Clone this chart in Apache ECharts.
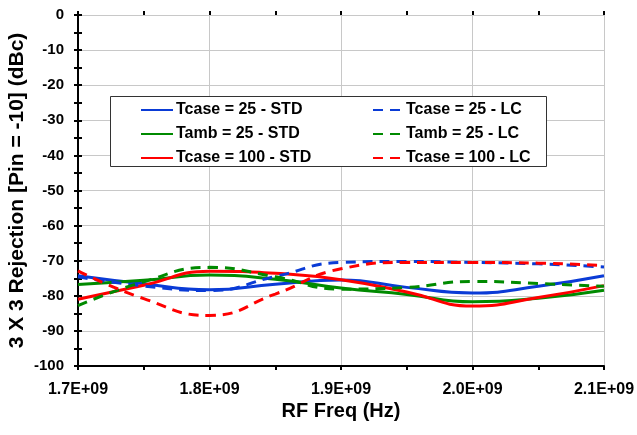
<!DOCTYPE html>
<html>
<head>
<meta charset="utf-8">
<script src="https://cdn.jsdelivr.net/npm/echarts@6/dist/echarts.min.js"></script>
<style>
  html, body { margin: 0; padding: 0; background: #fff; }
  #chart { width: 637px; height: 435px; }
</style>
</head>
<body>
<div id="chart"></div>
<script>
// frequency points (Hz)
var freqs = [1.70e9, 1.75e9, 1.80e9, 1.85e9, 1.90e9, 1.95e9, 2.00e9, 2.05e9, 2.10e9];

// rejection values (dBc)
var tcase25Std  = [-74.3, -76.6, -78.3, -76.7, -75.5, -77.6, -79.2, -77.3, -74.3];
var tamb25Std   = [-76.8, -75.6, -74.1, -75.3, -77.8, -79.6, -81.7, -80.7, -78.4];
var tcase100Std = [-81.0, -77.0, -73.0, -73.6, -75.4, -78.9, -82.9, -80.5, -77.1];
var tcase25Lc   = [-74.6, -77.2, -78.5, -74.5, -70.5, -70.2, -70.5, -70.9, -71.8];
var tamb25Lc    = [-82.8, -76.0, -71.9, -74.6, -78.1, -77.6, -75.9, -76.5, -77.3];
var tcase100Lc  = [-72.9, -80.8, -85.6, -79.5, -72.3, -70.5, -70.5, -70.7, -71.4];

var yTicks = { min: -100, max: 0, step: 10 };
var xTicks = { min: 1.7e9, max: 2.1e9, step: 1e8 };

var BLUE = '#0a3bd6', GREEN = '#008a00', RED = '#ff0000';

function pairs(ys) {
    return freqs.map(function (f, i) { return [f, ys[i]]; });
}

function makeLine(name, ys, color, dashed) {
    return {
        name: name,
        type: 'line',
        data: pairs(ys),
        smooth: 0.5,
        symbol: 'none',
        lineStyle: { color: color, width: 3, type: dashed ? [10, 7] : 'solid' },
        itemStyle: { color: color }
    };
}

var font = 'Liberation Sans, Arial, sans-serif';
var tickStyle = { color: '#000', width: 2 };
var gridBox = { left: 78, right: 33, top: 15, bottom: 69, outerBoundsMode: 'none' };

var chart = echarts.init(document.getElementById('chart'));
chart.setOption({
    animation: false,
    grid: [gridBox, gridBox],
    xAxis: [{
        type: 'value',
        min: xTicks.min, max: xTicks.max, interval: xTicks.step,
        name: 'RF Freq (Hz)',
        nameLocation: 'middle',
        nameGap: 35,
        nameMoveOverlap: false,
        nameTextStyle: { fontFamily: font, fontWeight: 'bold', fontSize: 20, color: '#000' },
        axisLine: { onZero: false, lineStyle: { color: '#000', width: 2 } },
        axisTick: { show: true, length: 4, lineStyle: tickStyle },
        minorTick: { show: true, splitNumber: 2, length: 4, lineStyle: tickStyle },
        axisLabel: {
            fontFamily: font, fontWeight: 'bold', fontSize: 16, color: '#000', margin: 16,
            formatter: function (v) { return (v / 1e9).toFixed(1) + 'E+09'; }
        },
        splitLine: { show: true, lineStyle: { color: '#c8c8c8', width: 1 } }
    }, {
        // inner half of the crossing ticks
        type: 'value', gridIndex: 1, position: 'bottom',
        min: xTicks.min, max: xTicks.max, interval: xTicks.step,
        axisLine: { show: false },
        axisTick: { show: true, inside: true, length: 4, lineStyle: tickStyle },
        minorTick: { show: true, splitNumber: 2, length: 4, lineStyle: tickStyle },
        axisLabel: { show: false },
        splitLine: { show: false }
    }],
    yAxis: [{
        type: 'value',
        min: yTicks.min, max: yTicks.max, interval: yTicks.step,
        name: '3 X 3 Rejection [Pin = -10] (dBc)',
        nameLocation: 'middle',
        nameGap: 50,
        nameMoveOverlap: false,
        nameTextStyle: { fontFamily: font, fontWeight: 'bold', fontSize: 21, color: '#000' },
        axisLine: { show: true, onZero: false, lineStyle: { color: '#000', width: 2 } },
        axisTick: { show: true, length: 4, lineStyle: tickStyle },
        minorTick: { show: true, splitNumber: 2, length: 4, lineStyle: tickStyle },
        axisLabel: { fontFamily: font, fontWeight: 'bold', fontSize: 15, color: '#000', margin: 14 },
        splitLine: { show: true, lineStyle: { color: '#c8c8c8', width: 1 } }
    }, {
        type: 'value', gridIndex: 1, position: 'left',
        min: yTicks.min, max: yTicks.max, interval: yTicks.step,
        axisLine: { show: false },
        axisTick: { show: true, inside: true, length: 4, lineStyle: tickStyle },
        minorTick: { show: true, splitNumber: 2, length: 4, lineStyle: tickStyle },
        axisLabel: { show: false },
        splitLine: { show: false }
    }],
    graphic: [{
        type: 'rect',
        shape: { x: 110.5, y: 96.5, width: 436, height: 70 },
        style: { fill: '#fff', stroke: '#333', lineWidth: 1 },
        z: 5
    }],
    legend: [{
        data: ['Tcase = 25 - STD', 'Tamb = 25 - STD', 'Tcase = 100 - STD'],
        orient: 'vertical', left: 135, top: 97,
        itemWidth: 32, itemHeight: 14, itemGap: 8,
        itemStyle: { opacity: 0 },
        textStyle: { fontFamily: font, fontWeight: 'bold', fontSize: 16, color: '#000', padding: [0, 0, 0, -2] },
        z: 10
    }, {
        data: ['Tcase = 25 - LC', 'Tamb = 25 - LC', 'Tcase = 100 - LC'],
        orient: 'vertical', left: 367, top: 97,
        itemWidth: 32, itemHeight: 14, itemGap: 8,
        itemStyle: { opacity: 0 },
        textStyle: { fontFamily: font, fontWeight: 'bold', fontSize: 16, color: '#000', padding: [0, 0, 0, -4] },
        z: 10
    }],
    series: [
        makeLine('Tcase = 25 - STD', tcase25Std, BLUE, false),
        makeLine('Tamb = 25 - STD', tamb25Std, GREEN, false),
        makeLine('Tcase = 100 - STD', tcase100Std, RED, false),
        makeLine('Tcase = 25 - LC', tcase25Lc, BLUE, true),
        makeLine('Tamb = 25 - LC', tamb25Lc, GREEN, true),
        makeLine('Tcase = 100 - LC', tcase100Lc, RED, true)
    ]
});
</script>
</body>
</html>
